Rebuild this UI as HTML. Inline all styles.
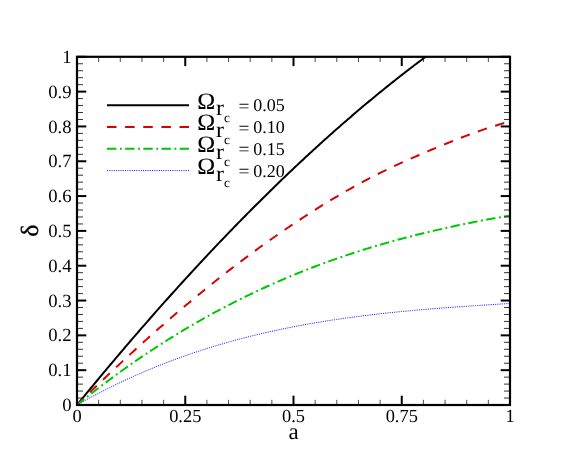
<!DOCTYPE html>
<html><head><meta charset="utf-8"><style>
html,body{margin:0;padding:0;background:#fff;}
body{width:581px;height:458px;overflow:hidden;}
svg{display:block;will-change:transform}
text{text-rendering:geometricPrecision}
text{font-family:"Liberation Serif",serif;fill:#000}
.tk{font-size:18.7px}
.tkx{font-size:18.4px}
.om{font-size:23.5px;stroke:#000;stroke-width:0.12px}
.sr{font-size:22.2px}
.sc{font-size:13.4px}
.eq{font-size:18.0px}
.ax{font-size:23px}
.dl{font-size:24.7px;stroke:#000;stroke-width:0.3px}
</style></head><body>
<svg width="581" height="458" viewBox="0 0 581 458">
<rect width="581" height="458" fill="#fff"/>
<defs><clipPath id="cp"><rect x="77.0" y="56.8" width="433.0" height="348.2"/></clipPath></defs>
<g clip-path="url(#cp)" fill="none" stroke-linecap="butt" stroke-linejoin="round">
<path d="M77.00,405.00L78.78,402.82L80.55,400.65L82.33,398.48L84.10,396.31L85.88,394.14L87.65,391.98L89.43,389.83L91.20,387.68L92.98,385.53L94.75,383.38L96.53,381.24L98.30,379.10L100.08,376.97L101.85,374.84L103.63,372.71L105.40,370.59L107.18,368.47L108.96,366.36L110.73,364.24L112.51,362.14L114.28,360.03L116.06,357.93L117.83,355.84L119.61,353.74L121.38,351.66L123.16,349.57L124.93,347.49L126.71,345.41L128.48,343.34L130.26,341.27L132.03,339.21L133.81,337.14L135.58,335.09L137.36,333.03L139.14,330.98L140.91,328.94L142.69,326.90L144.46,324.86L146.24,322.82L148.01,320.79L149.79,318.77L151.56,316.75L153.34,314.73L155.11,312.71L156.89,310.70L158.66,308.70L160.44,306.69L162.21,304.70L163.99,302.70L165.76,300.71L167.54,298.73L169.32,296.74L171.09,294.77L172.87,292.79L174.64,290.82L176.42,288.86L178.19,286.89L179.97,284.94L181.74,282.98L183.52,281.03L185.29,279.09L187.07,277.15L188.84,275.21L190.62,273.28L192.39,271.35L194.17,269.42L195.95,267.50L197.72,265.59L199.50,263.67L201.27,261.77L203.05,259.86L204.82,257.96L206.60,256.07L208.37,254.17L210.15,252.29L211.92,250.40L213.70,248.53L215.47,246.65L217.25,244.78L219.02,242.92L220.80,241.05L222.57,239.20L224.35,237.34L226.13,235.49L227.90,233.65L229.68,231.81L231.45,229.97L233.23,228.14L235.00,226.31L236.78,224.49L238.55,222.67L240.33,220.86L242.10,219.05L243.88,217.24L245.65,215.44L247.43,213.64L249.20,211.85L250.98,210.06L252.75,208.28L254.53,206.50L256.31,204.72L258.08,202.95L259.86,201.19L261.63,199.43L263.41,197.67L265.18,195.92L266.96,194.17L268.73,192.42L270.51,190.68L272.28,188.95L274.06,187.22L275.83,185.49L277.61,183.77L279.38,182.05L281.16,180.34L282.93,178.63L284.71,176.93L286.49,175.23L288.26,173.54L290.04,171.85L291.81,170.16L293.59,168.48L295.36,166.80L297.14,165.13L298.91,163.47L300.69,161.80L302.46,160.15L304.24,158.49L306.01,156.84L307.79,155.20L309.56,153.56L311.34,151.93L313.11,150.30L314.89,148.67L316.67,147.05L318.44,145.43L320.22,143.82L321.99,142.22L323.77,140.61L325.54,139.02L327.32,137.43L329.09,135.84L330.87,134.25L332.64,132.68L334.42,131.10L336.19,129.53L337.97,127.97L339.74,126.41L341.52,124.86L343.29,123.31L345.07,121.76L346.85,120.22L348.62,118.68L350.40,117.15L352.17,115.63L353.95,114.11L355.72,112.59L357.50,111.08L359.27,109.57L361.05,108.07L362.82,106.57L364.60,105.08L366.37,103.60L368.15,102.11L369.92,100.64L371.70,99.16L373.48,97.70L375.25,96.23L377.03,94.78L378.80,93.32L380.58,91.88L382.35,90.43L384.13,89.00L385.90,87.56L387.68,86.13L389.45,84.71L391.23,83.29L393.00,81.88L394.78,80.47L396.55,79.07L398.33,77.67L400.10,76.28L401.88,74.89L403.66,73.51L405.43,72.13L407.21,70.76L408.98,69.39L410.76,68.03L412.53,66.67L414.31,65.32L416.08,63.97L417.86,62.63L419.63,61.29L421.41,59.96L423.18,58.63L424.96,57.31L426.73,55.99L428.51,54.68L430.28,53.37L432.06,52.07" stroke="#000" stroke-width="2"/>
<path d="M77.00,405.00L79.17,402.86L81.33,400.73L83.50,398.60L85.66,396.48L87.83,394.36L89.99,392.26L92.16,390.15L94.32,388.06L96.48,385.97L98.65,383.88L100.81,381.80L102.98,379.73L105.14,377.67L107.31,375.61L109.47,373.55L111.64,371.51L113.81,369.46L115.97,367.43L118.13,365.40L120.30,363.38L122.47,361.37L124.63,359.36L126.80,357.35L128.96,355.36L131.12,353.37L133.29,351.39L135.46,349.41L137.62,347.44L139.78,345.48L141.95,343.52L144.12,341.57L146.28,339.62L148.44,337.69L150.61,335.76L152.77,333.83L154.94,331.91L157.11,330.00L159.27,328.10L161.44,326.20L163.60,324.31L165.76,322.43L167.93,320.55L170.09,318.68L172.26,316.82L174.43,314.96L176.59,313.11L178.75,311.27L180.92,309.43L183.08,307.60L185.25,305.78L187.42,303.96L189.58,302.16L191.75,300.35L193.91,298.56L196.07,296.77L198.24,294.99L200.40,293.22L202.57,291.45L204.74,289.69L206.90,287.94L209.06,286.19L211.23,284.46L213.40,282.73L215.56,281.00L217.72,279.29L219.89,277.58L222.06,275.87L224.22,274.18L226.38,272.49L228.55,270.81L230.72,269.14L232.88,267.47L235.04,265.81L237.21,264.16L239.38,262.52L241.54,260.88L243.71,259.26L245.87,257.63L248.03,256.02L250.20,254.41L252.37,252.81L254.53,251.22L256.69,249.64L258.86,248.06L261.02,246.49L263.19,244.93L265.36,243.38L267.52,241.83L269.69,240.29L271.85,238.76L274.01,237.24L276.18,235.72L278.35,234.22L280.51,232.72L282.67,231.22L284.84,229.74L287.00,228.26L289.17,226.79L291.34,225.33L293.50,223.88L295.66,222.43L297.83,221.00L300.00,219.57L302.16,218.15L304.33,216.73L306.49,215.33L308.65,213.93L310.82,212.54L312.99,211.16L315.15,209.79L317.32,208.43L319.48,207.07L321.64,205.72L323.81,204.38L325.98,203.05L328.14,201.73L330.30,200.42L332.47,199.12L334.63,197.82L336.80,196.54L338.96,195.26L341.13,193.99L343.30,192.74L345.46,191.49L347.62,190.25L349.79,189.02L351.95,187.80L354.12,186.60L356.29,185.40L358.45,184.21L360.62,183.04L362.78,181.87L364.94,180.71L367.11,179.57L369.28,178.44L371.44,177.31L373.61,176.20L375.77,175.10L377.94,174.01L380.10,172.93L382.26,171.86L384.43,170.80L386.59,169.75L388.76,168.71L390.93,167.68L393.09,166.66L395.25,165.65L397.42,164.65L399.58,163.66L401.75,162.67L403.92,161.69L406.08,160.72L408.25,159.76L410.41,158.80L412.57,157.85L414.74,156.90L416.91,155.96L419.07,155.02L421.24,154.09L423.40,153.16L425.56,152.24L427.73,151.32L429.89,150.41L432.06,149.50L434.22,148.59L436.39,147.69L438.56,146.79L440.72,145.89L442.88,145.00L445.05,144.11L447.21,143.23L449.38,142.35L451.55,141.48L453.71,140.62L455.88,139.76L458.04,138.91L460.20,138.06L462.37,137.23L464.54,136.40L466.70,135.58L468.87,134.77L471.03,133.96L473.19,133.17L475.36,132.39L477.53,131.62L479.69,130.86L481.86,130.11L484.02,129.37L486.19,128.64L488.35,127.92L490.51,127.22L492.68,126.53L494.84,125.85L497.01,125.18L499.18,124.52L501.34,123.88L503.50,123.24L505.67,122.62L507.83,122.01L510.00,121.41" stroke="#d80000" stroke-width="2" stroke-dasharray="9.5,8.63"/>
<path d="M77.00,405.00L79.17,403.25L81.33,401.50L83.50,399.77L85.66,398.04L87.83,396.33L89.99,394.63L92.16,392.93L94.32,391.25L96.48,389.58L98.65,387.91L100.81,386.26L102.98,384.62L105.14,382.98L107.31,381.36L109.47,379.74L111.64,378.14L113.81,376.55L115.97,374.96L118.13,373.39L120.30,371.82L122.47,370.26L124.63,368.72L126.80,367.18L128.96,365.65L131.12,364.13L133.29,362.63L135.46,361.13L137.62,359.64L139.78,358.16L141.95,356.68L144.12,355.22L146.28,353.77L148.44,352.33L150.61,350.89L152.77,349.47L154.94,348.05L157.11,346.65L159.27,345.25L161.44,343.86L163.60,342.48L165.76,341.11L167.93,339.75L170.09,338.40L172.26,337.05L174.43,335.72L176.59,334.39L178.75,333.07L180.92,331.76L183.08,330.46L185.25,329.17L187.42,327.89L189.58,326.62L191.75,325.35L193.91,324.10L196.07,322.85L198.24,321.61L200.40,320.38L202.57,319.15L204.74,317.94L206.90,316.73L209.06,315.54L211.23,314.35L213.40,313.17L215.56,311.99L217.72,310.83L219.89,309.67L222.06,308.53L224.22,307.39L226.38,306.26L228.55,305.13L230.72,304.02L232.88,302.91L235.04,301.81L237.21,300.72L239.38,299.63L241.54,298.56L243.71,297.49L245.87,296.43L248.03,295.38L250.20,294.33L252.37,293.30L254.53,292.27L256.69,291.25L258.86,290.23L261.02,289.23L263.19,288.23L265.36,287.24L267.52,286.26L269.69,285.28L271.85,284.31L274.01,283.35L276.18,282.40L278.35,281.45L280.51,280.51L282.67,279.58L284.84,278.66L287.00,277.74L289.17,276.83L291.34,275.93L293.50,275.03L295.66,274.15L297.83,273.27L300.00,272.39L302.16,271.52L304.33,270.66L306.49,269.81L308.65,268.97L310.82,268.13L312.99,267.29L315.15,266.47L317.32,265.65L319.48,264.84L321.64,264.03L323.81,263.24L325.98,262.44L328.14,261.66L330.30,260.88L332.47,260.11L334.63,259.34L336.80,258.59L338.96,257.83L341.13,257.09L343.30,256.35L345.46,255.62L347.62,254.89L349.79,254.17L351.95,253.46L354.12,252.75L356.29,252.05L358.45,251.35L360.62,250.66L362.78,249.98L364.94,249.31L367.11,248.64L369.28,247.97L371.44,247.31L373.61,246.66L375.77,246.01L377.94,245.37L380.10,244.74L382.26,244.11L384.43,243.49L386.59,242.87L388.76,242.26L390.93,241.65L393.09,241.05L395.25,240.46L397.42,239.87L399.58,239.29L401.75,238.71L403.92,238.14L406.08,237.57L408.25,237.01L410.41,236.45L412.57,235.90L414.74,235.35L416.91,234.81L419.07,234.27L421.24,233.74L423.40,233.21L425.56,232.69L427.73,232.17L429.89,231.65L432.06,231.14L434.22,230.64L436.39,230.14L438.56,229.64L440.72,229.15L442.88,228.66L445.05,228.17L447.21,227.69L449.38,227.21L451.55,226.74L453.71,226.27L455.88,225.80L458.04,225.34L460.20,224.88L462.37,224.42L464.54,223.97L466.70,223.53L468.87,223.08L471.03,222.65L473.19,222.21L475.36,221.78L477.53,221.36L479.69,220.94L481.86,220.52L484.02,220.11L486.19,219.71L488.35,219.31L490.51,218.92L492.68,218.53L494.84,218.15L497.01,217.78L499.18,217.41L501.34,217.05L503.50,216.69L505.67,216.34L507.83,216.00L510.00,215.66" stroke="#00c800" stroke-width="2" stroke-dasharray="9.35,3.55,1.9,3.37"/>
<path d="M77.00,405.00L79.17,403.77L81.33,402.56L83.50,401.36L85.66,400.16L87.83,398.98L89.99,397.81L92.16,396.64L94.32,395.49L96.48,394.35L98.65,393.22L100.81,392.10L102.98,390.99L105.14,389.88L107.31,388.79L109.47,387.71L111.64,386.64L113.81,385.58L115.97,384.53L118.13,383.49L120.30,382.46L122.47,381.43L124.63,380.42L126.80,379.42L128.96,378.43L131.12,377.44L133.29,376.47L135.46,375.50L137.62,374.55L139.78,373.60L141.95,372.66L144.12,371.73L146.28,370.81L148.44,369.90L150.61,369.00L152.77,368.11L154.94,367.23L157.11,366.35L159.27,365.49L161.44,364.63L163.60,363.78L165.76,362.94L167.93,362.11L170.09,361.29L172.26,360.47L174.43,359.67L176.59,358.87L178.75,358.08L180.92,357.30L183.08,356.53L185.25,355.76L187.42,355.01L189.58,354.26L191.75,353.52L193.91,352.79L196.07,352.06L198.24,351.35L200.40,350.64L202.57,349.94L204.74,349.24L206.90,348.56L209.06,347.88L211.23,347.21L213.40,346.55L215.56,345.89L217.72,345.24L219.89,344.60L222.06,343.97L224.22,343.34L226.38,342.72L228.55,342.11L230.72,341.50L232.88,340.91L235.04,340.31L237.21,339.73L239.38,339.15L241.54,338.58L243.71,338.02L245.87,337.46L248.03,336.91L250.20,336.37L252.37,335.83L254.53,335.30L256.69,334.77L258.86,334.25L261.02,333.74L263.19,333.24L265.36,332.74L267.52,332.24L269.69,331.76L271.85,331.28L274.01,330.80L276.18,330.33L278.35,329.87L280.51,329.41L282.67,328.96L284.84,328.52L287.00,328.08L289.17,327.64L291.34,327.21L293.50,326.79L295.66,326.37L297.83,325.96L300.00,325.55L302.16,325.15L304.33,324.75L306.49,324.36L308.65,323.98L310.82,323.60L312.99,323.22L315.15,322.85L317.32,322.48L319.48,322.12L321.64,321.77L323.81,321.42L325.98,321.07L328.14,320.73L330.30,320.39L332.47,320.06L334.63,319.73L336.80,319.41L338.96,319.09L341.13,318.77L343.30,318.46L345.46,318.16L347.62,317.85L349.79,317.56L351.95,317.26L354.12,316.97L356.29,316.69L358.45,316.41L360.62,316.13L362.78,315.86L364.94,315.59L367.11,315.32L369.28,315.06L371.44,314.80L373.61,314.54L375.77,314.29L377.94,314.05L380.10,313.80L382.26,313.56L384.43,313.32L386.59,313.09L388.76,312.86L390.93,312.63L393.09,312.40L395.25,312.18L397.42,311.96L399.58,311.75L401.75,311.53L403.92,311.32L406.08,311.12L408.25,310.91L410.41,310.71L412.57,310.51L414.74,310.31L416.91,310.12L419.07,309.93L421.24,309.74L423.40,309.55L425.56,309.37L427.73,309.19L429.89,309.01L432.06,308.83L434.22,308.65L436.39,308.48L438.56,308.31L440.72,308.14L442.88,307.97L445.05,307.81L447.21,307.64L449.38,307.48L451.55,307.32L453.71,307.16L455.88,307.01L458.04,306.85L460.20,306.70L462.37,306.55L464.54,306.39L466.70,306.25L468.87,306.10L471.03,305.95L473.19,305.80L475.36,305.66L477.53,305.52L479.69,305.37L481.86,305.23L484.02,305.09L486.19,304.95L488.35,304.81L490.51,304.68L492.68,304.54L494.84,304.40L497.01,304.27L499.18,304.13L501.34,303.99L503.50,303.86L505.67,303.73L507.83,303.59L510.00,303.46" stroke="#1a1aff" stroke-width="1.0" stroke-dasharray="1.1,1.15"/>
</g>
<line x1="77.0" y1="405.00" x2="86.3" y2="405.00" stroke="#000" stroke-width="2"/><line x1="510.0" y1="405.00" x2="500.7" y2="405.00" stroke="#000" stroke-width="2"/><line x1="77.0" y1="370.18" x2="86.3" y2="370.18" stroke="#000" stroke-width="2"/><line x1="510.0" y1="370.18" x2="500.7" y2="370.18" stroke="#000" stroke-width="2"/><line x1="77.0" y1="335.36" x2="86.3" y2="335.36" stroke="#000" stroke-width="2"/><line x1="510.0" y1="335.36" x2="500.7" y2="335.36" stroke="#000" stroke-width="2"/><line x1="77.0" y1="300.54" x2="86.3" y2="300.54" stroke="#000" stroke-width="2"/><line x1="510.0" y1="300.54" x2="500.7" y2="300.54" stroke="#000" stroke-width="2"/><line x1="77.0" y1="265.72" x2="86.3" y2="265.72" stroke="#000" stroke-width="2"/><line x1="510.0" y1="265.72" x2="500.7" y2="265.72" stroke="#000" stroke-width="2"/><line x1="77.0" y1="230.90" x2="86.3" y2="230.90" stroke="#000" stroke-width="2"/><line x1="510.0" y1="230.90" x2="500.7" y2="230.90" stroke="#000" stroke-width="2"/><line x1="77.0" y1="196.08" x2="86.3" y2="196.08" stroke="#000" stroke-width="2"/><line x1="510.0" y1="196.08" x2="500.7" y2="196.08" stroke="#000" stroke-width="2"/><line x1="77.0" y1="161.26" x2="86.3" y2="161.26" stroke="#000" stroke-width="2"/><line x1="510.0" y1="161.26" x2="500.7" y2="161.26" stroke="#000" stroke-width="2"/><line x1="77.0" y1="126.44" x2="86.3" y2="126.44" stroke="#000" stroke-width="2"/><line x1="510.0" y1="126.44" x2="500.7" y2="126.44" stroke="#000" stroke-width="2"/><line x1="77.0" y1="91.62" x2="86.3" y2="91.62" stroke="#000" stroke-width="2"/><line x1="510.0" y1="91.62" x2="500.7" y2="91.62" stroke="#000" stroke-width="2"/><line x1="77.0" y1="56.80" x2="86.3" y2="56.80" stroke="#000" stroke-width="2"/><line x1="510.0" y1="56.80" x2="500.7" y2="56.80" stroke="#000" stroke-width="2"/><line x1="77.0" y1="398.04" x2="83.0" y2="398.04" stroke="#000" stroke-width="0.8"/><line x1="510.0" y1="398.04" x2="504.0" y2="398.04" stroke="#000" stroke-width="0.8"/><line x1="77.0" y1="391.07" x2="83.0" y2="391.07" stroke="#000" stroke-width="0.8"/><line x1="510.0" y1="391.07" x2="504.0" y2="391.07" stroke="#000" stroke-width="0.8"/><line x1="77.0" y1="384.11" x2="83.0" y2="384.11" stroke="#000" stroke-width="0.8"/><line x1="510.0" y1="384.11" x2="504.0" y2="384.11" stroke="#000" stroke-width="0.8"/><line x1="77.0" y1="377.14" x2="83.0" y2="377.14" stroke="#000" stroke-width="0.8"/><line x1="510.0" y1="377.14" x2="504.0" y2="377.14" stroke="#000" stroke-width="0.8"/><line x1="77.0" y1="363.22" x2="83.0" y2="363.22" stroke="#000" stroke-width="0.8"/><line x1="510.0" y1="363.22" x2="504.0" y2="363.22" stroke="#000" stroke-width="0.8"/><line x1="77.0" y1="356.25" x2="83.0" y2="356.25" stroke="#000" stroke-width="0.8"/><line x1="510.0" y1="356.25" x2="504.0" y2="356.25" stroke="#000" stroke-width="0.8"/><line x1="77.0" y1="349.29" x2="83.0" y2="349.29" stroke="#000" stroke-width="0.8"/><line x1="510.0" y1="349.29" x2="504.0" y2="349.29" stroke="#000" stroke-width="0.8"/><line x1="77.0" y1="342.32" x2="83.0" y2="342.32" stroke="#000" stroke-width="0.8"/><line x1="510.0" y1="342.32" x2="504.0" y2="342.32" stroke="#000" stroke-width="0.8"/><line x1="77.0" y1="328.40" x2="83.0" y2="328.40" stroke="#000" stroke-width="0.8"/><line x1="510.0" y1="328.40" x2="504.0" y2="328.40" stroke="#000" stroke-width="0.8"/><line x1="77.0" y1="321.43" x2="83.0" y2="321.43" stroke="#000" stroke-width="0.8"/><line x1="510.0" y1="321.43" x2="504.0" y2="321.43" stroke="#000" stroke-width="0.8"/><line x1="77.0" y1="314.47" x2="83.0" y2="314.47" stroke="#000" stroke-width="0.8"/><line x1="510.0" y1="314.47" x2="504.0" y2="314.47" stroke="#000" stroke-width="0.8"/><line x1="77.0" y1="307.50" x2="83.0" y2="307.50" stroke="#000" stroke-width="0.8"/><line x1="510.0" y1="307.50" x2="504.0" y2="307.50" stroke="#000" stroke-width="0.8"/><line x1="77.0" y1="293.58" x2="83.0" y2="293.58" stroke="#000" stroke-width="0.8"/><line x1="510.0" y1="293.58" x2="504.0" y2="293.58" stroke="#000" stroke-width="0.8"/><line x1="77.0" y1="286.61" x2="83.0" y2="286.61" stroke="#000" stroke-width="0.8"/><line x1="510.0" y1="286.61" x2="504.0" y2="286.61" stroke="#000" stroke-width="0.8"/><line x1="77.0" y1="279.65" x2="83.0" y2="279.65" stroke="#000" stroke-width="0.8"/><line x1="510.0" y1="279.65" x2="504.0" y2="279.65" stroke="#000" stroke-width="0.8"/><line x1="77.0" y1="272.68" x2="83.0" y2="272.68" stroke="#000" stroke-width="0.8"/><line x1="510.0" y1="272.68" x2="504.0" y2="272.68" stroke="#000" stroke-width="0.8"/><line x1="77.0" y1="258.76" x2="83.0" y2="258.76" stroke="#000" stroke-width="0.8"/><line x1="510.0" y1="258.76" x2="504.0" y2="258.76" stroke="#000" stroke-width="0.8"/><line x1="77.0" y1="251.79" x2="83.0" y2="251.79" stroke="#000" stroke-width="0.8"/><line x1="510.0" y1="251.79" x2="504.0" y2="251.79" stroke="#000" stroke-width="0.8"/><line x1="77.0" y1="244.83" x2="83.0" y2="244.83" stroke="#000" stroke-width="0.8"/><line x1="510.0" y1="244.83" x2="504.0" y2="244.83" stroke="#000" stroke-width="0.8"/><line x1="77.0" y1="237.86" x2="83.0" y2="237.86" stroke="#000" stroke-width="0.8"/><line x1="510.0" y1="237.86" x2="504.0" y2="237.86" stroke="#000" stroke-width="0.8"/><line x1="77.0" y1="223.94" x2="83.0" y2="223.94" stroke="#000" stroke-width="0.8"/><line x1="510.0" y1="223.94" x2="504.0" y2="223.94" stroke="#000" stroke-width="0.8"/><line x1="77.0" y1="216.97" x2="83.0" y2="216.97" stroke="#000" stroke-width="0.8"/><line x1="510.0" y1="216.97" x2="504.0" y2="216.97" stroke="#000" stroke-width="0.8"/><line x1="77.0" y1="210.01" x2="83.0" y2="210.01" stroke="#000" stroke-width="0.8"/><line x1="510.0" y1="210.01" x2="504.0" y2="210.01" stroke="#000" stroke-width="0.8"/><line x1="77.0" y1="203.04" x2="83.0" y2="203.04" stroke="#000" stroke-width="0.8"/><line x1="510.0" y1="203.04" x2="504.0" y2="203.04" stroke="#000" stroke-width="0.8"/><line x1="77.0" y1="189.12" x2="83.0" y2="189.12" stroke="#000" stroke-width="0.8"/><line x1="510.0" y1="189.12" x2="504.0" y2="189.12" stroke="#000" stroke-width="0.8"/><line x1="77.0" y1="182.15" x2="83.0" y2="182.15" stroke="#000" stroke-width="0.8"/><line x1="510.0" y1="182.15" x2="504.0" y2="182.15" stroke="#000" stroke-width="0.8"/><line x1="77.0" y1="175.19" x2="83.0" y2="175.19" stroke="#000" stroke-width="0.8"/><line x1="510.0" y1="175.19" x2="504.0" y2="175.19" stroke="#000" stroke-width="0.8"/><line x1="77.0" y1="168.22" x2="83.0" y2="168.22" stroke="#000" stroke-width="0.8"/><line x1="510.0" y1="168.22" x2="504.0" y2="168.22" stroke="#000" stroke-width="0.8"/><line x1="77.0" y1="154.30" x2="83.0" y2="154.30" stroke="#000" stroke-width="0.8"/><line x1="510.0" y1="154.30" x2="504.0" y2="154.30" stroke="#000" stroke-width="0.8"/><line x1="77.0" y1="147.33" x2="83.0" y2="147.33" stroke="#000" stroke-width="0.8"/><line x1="510.0" y1="147.33" x2="504.0" y2="147.33" stroke="#000" stroke-width="0.8"/><line x1="77.0" y1="140.37" x2="83.0" y2="140.37" stroke="#000" stroke-width="0.8"/><line x1="510.0" y1="140.37" x2="504.0" y2="140.37" stroke="#000" stroke-width="0.8"/><line x1="77.0" y1="133.40" x2="83.0" y2="133.40" stroke="#000" stroke-width="0.8"/><line x1="510.0" y1="133.40" x2="504.0" y2="133.40" stroke="#000" stroke-width="0.8"/><line x1="77.0" y1="119.48" x2="83.0" y2="119.48" stroke="#000" stroke-width="0.8"/><line x1="510.0" y1="119.48" x2="504.0" y2="119.48" stroke="#000" stroke-width="0.8"/><line x1="77.0" y1="112.51" x2="83.0" y2="112.51" stroke="#000" stroke-width="0.8"/><line x1="510.0" y1="112.51" x2="504.0" y2="112.51" stroke="#000" stroke-width="0.8"/><line x1="77.0" y1="105.55" x2="83.0" y2="105.55" stroke="#000" stroke-width="0.8"/><line x1="510.0" y1="105.55" x2="504.0" y2="105.55" stroke="#000" stroke-width="0.8"/><line x1="77.0" y1="98.58" x2="83.0" y2="98.58" stroke="#000" stroke-width="0.8"/><line x1="510.0" y1="98.58" x2="504.0" y2="98.58" stroke="#000" stroke-width="0.8"/><line x1="77.0" y1="84.66" x2="83.0" y2="84.66" stroke="#000" stroke-width="0.8"/><line x1="510.0" y1="84.66" x2="504.0" y2="84.66" stroke="#000" stroke-width="0.8"/><line x1="77.0" y1="77.69" x2="83.0" y2="77.69" stroke="#000" stroke-width="0.8"/><line x1="510.0" y1="77.69" x2="504.0" y2="77.69" stroke="#000" stroke-width="0.8"/><line x1="77.0" y1="70.73" x2="83.0" y2="70.73" stroke="#000" stroke-width="0.8"/><line x1="510.0" y1="70.73" x2="504.0" y2="70.73" stroke="#000" stroke-width="0.8"/><line x1="77.0" y1="63.76" x2="83.0" y2="63.76" stroke="#000" stroke-width="0.8"/><line x1="510.0" y1="63.76" x2="504.0" y2="63.76" stroke="#000" stroke-width="0.8"/><line x1="77.00" y1="405.0" x2="77.00" y2="395.7" stroke="#000" stroke-width="2"/><line x1="77.00" y1="56.8" x2="77.00" y2="66.1" stroke="#000" stroke-width="2"/><line x1="185.25" y1="405.0" x2="185.25" y2="395.7" stroke="#000" stroke-width="2"/><line x1="185.25" y1="56.8" x2="185.25" y2="66.1" stroke="#000" stroke-width="2"/><line x1="293.50" y1="405.0" x2="293.50" y2="395.7" stroke="#000" stroke-width="2"/><line x1="293.50" y1="56.8" x2="293.50" y2="66.1" stroke="#000" stroke-width="2"/><line x1="401.75" y1="405.0" x2="401.75" y2="395.7" stroke="#000" stroke-width="2"/><line x1="401.75" y1="56.8" x2="401.75" y2="66.1" stroke="#000" stroke-width="2"/><line x1="510.00" y1="405.0" x2="510.00" y2="395.7" stroke="#000" stroke-width="2"/><line x1="510.00" y1="56.8" x2="510.00" y2="66.1" stroke="#000" stroke-width="2"/><line x1="98.65" y1="405.0" x2="98.65" y2="399.8" stroke="#000" stroke-width="0.7"/><line x1="98.65" y1="56.8" x2="98.65" y2="62.0" stroke="#000" stroke-width="0.7"/><line x1="120.30" y1="405.0" x2="120.30" y2="399.8" stroke="#000" stroke-width="0.7"/><line x1="120.30" y1="56.8" x2="120.30" y2="62.0" stroke="#000" stroke-width="0.7"/><line x1="141.95" y1="405.0" x2="141.95" y2="399.8" stroke="#000" stroke-width="0.7"/><line x1="141.95" y1="56.8" x2="141.95" y2="62.0" stroke="#000" stroke-width="0.7"/><line x1="163.60" y1="405.0" x2="163.60" y2="399.8" stroke="#000" stroke-width="0.7"/><line x1="163.60" y1="56.8" x2="163.60" y2="62.0" stroke="#000" stroke-width="0.7"/><line x1="206.90" y1="405.0" x2="206.90" y2="399.8" stroke="#000" stroke-width="0.7"/><line x1="206.90" y1="56.8" x2="206.90" y2="62.0" stroke="#000" stroke-width="0.7"/><line x1="228.55" y1="405.0" x2="228.55" y2="399.8" stroke="#000" stroke-width="0.7"/><line x1="228.55" y1="56.8" x2="228.55" y2="62.0" stroke="#000" stroke-width="0.7"/><line x1="250.20" y1="405.0" x2="250.20" y2="399.8" stroke="#000" stroke-width="0.7"/><line x1="250.20" y1="56.8" x2="250.20" y2="62.0" stroke="#000" stroke-width="0.7"/><line x1="271.85" y1="405.0" x2="271.85" y2="399.8" stroke="#000" stroke-width="0.7"/><line x1="271.85" y1="56.8" x2="271.85" y2="62.0" stroke="#000" stroke-width="0.7"/><line x1="315.15" y1="405.0" x2="315.15" y2="399.8" stroke="#000" stroke-width="0.7"/><line x1="315.15" y1="56.8" x2="315.15" y2="62.0" stroke="#000" stroke-width="0.7"/><line x1="336.80" y1="405.0" x2="336.80" y2="399.8" stroke="#000" stroke-width="0.7"/><line x1="336.80" y1="56.8" x2="336.80" y2="62.0" stroke="#000" stroke-width="0.7"/><line x1="358.45" y1="405.0" x2="358.45" y2="399.8" stroke="#000" stroke-width="0.7"/><line x1="358.45" y1="56.8" x2="358.45" y2="62.0" stroke="#000" stroke-width="0.7"/><line x1="380.10" y1="405.0" x2="380.10" y2="399.8" stroke="#000" stroke-width="0.7"/><line x1="380.10" y1="56.8" x2="380.10" y2="62.0" stroke="#000" stroke-width="0.7"/><line x1="423.40" y1="405.0" x2="423.40" y2="399.8" stroke="#000" stroke-width="0.7"/><line x1="423.40" y1="56.8" x2="423.40" y2="62.0" stroke="#000" stroke-width="0.7"/><line x1="445.05" y1="405.0" x2="445.05" y2="399.8" stroke="#000" stroke-width="0.7"/><line x1="445.05" y1="56.8" x2="445.05" y2="62.0" stroke="#000" stroke-width="0.7"/><line x1="466.70" y1="405.0" x2="466.70" y2="399.8" stroke="#000" stroke-width="0.7"/><line x1="466.70" y1="56.8" x2="466.70" y2="62.0" stroke="#000" stroke-width="0.7"/><line x1="488.35" y1="405.0" x2="488.35" y2="399.8" stroke="#000" stroke-width="0.7"/><line x1="488.35" y1="56.8" x2="488.35" y2="62.0" stroke="#000" stroke-width="0.7"/>
<rect x="77.0" y="56.8" width="433.0" height="348.2" fill="none" stroke="#000" stroke-width="2.2"/>
<text x="71.6" y="411.10" text-anchor="end" class="tk">0</text><text x="71.6" y="376.28" text-anchor="end" class="tk">0.1</text><text x="71.6" y="341.46" text-anchor="end" class="tk">0.2</text><text x="71.6" y="306.64" text-anchor="end" class="tk">0.3</text><text x="71.6" y="271.82" text-anchor="end" class="tk">0.4</text><text x="71.6" y="237.00" text-anchor="end" class="tk">0.5</text><text x="71.6" y="202.18" text-anchor="end" class="tk">0.6</text><text x="71.6" y="167.36" text-anchor="end" class="tk">0.7</text><text x="71.6" y="132.54" text-anchor="end" class="tk">0.8</text><text x="71.6" y="97.72" text-anchor="end" class="tk">0.9</text><text x="71.6" y="62.90" text-anchor="end" class="tk">1</text><text x="77.00" y="422.4" text-anchor="middle" class="tkx">0</text><text x="185.25" y="422.4" text-anchor="middle" class="tkx">0.25</text><text x="293.50" y="422.4" text-anchor="middle" class="tkx">0.5</text><text x="401.75" y="422.4" text-anchor="middle" class="tkx">0.75</text><text x="510.00" y="422.4" text-anchor="middle" class="tkx">1</text>
<line x1="107" y1="105.3" x2="189" y2="105.3" stroke="#000" stroke-width="2"/><text transform="translate(197.3,108.50) scale(1.03,1)" class="om">Ω</text><text transform="translate(216.0,115.20) scale(1.08,1)" class="sr">r</text><text x="224.0" y="122.10" class="sc">c</text><text transform="translate(238.6,111.70) scale(1.08,1)" class="eq">=</text><text x="253.3" y="111.40" class="eq">0.05</text><line x1="107" y1="127.1" x2="189" y2="127.1" stroke="#d80000" stroke-width="2" stroke-dasharray="9.5,8.63"/><text transform="translate(197.3,130.30) scale(1.03,1)" class="om">Ω</text><text transform="translate(216.0,137.00) scale(1.08,1)" class="sr">r</text><text x="224.0" y="143.90" class="sc">c</text><text transform="translate(238.6,133.50) scale(1.08,1)" class="eq">=</text><text x="253.3" y="133.20" class="eq">0.10</text><line x1="107" y1="148.8" x2="189" y2="148.8" stroke="#00c800" stroke-width="2" stroke-dasharray="9.35,3.55,1.9,3.37"/><text transform="translate(197.3,152.00) scale(1.03,1)" class="om">Ω</text><text transform="translate(216.0,158.70) scale(1.08,1)" class="sr">r</text><text x="224.0" y="165.60" class="sc">c</text><text transform="translate(238.6,155.20) scale(1.08,1)" class="eq">=</text><text x="253.3" y="154.90" class="eq">0.15</text><line x1="107" y1="170.6" x2="189" y2="170.6" stroke="#1a1aff" stroke-width="1.0" stroke-dasharray="1.1,1.15"/><text transform="translate(197.3,173.80) scale(1.03,1)" class="om">Ω</text><text transform="translate(216.0,180.50) scale(1.08,1)" class="sr">r</text><text x="224.0" y="187.40" class="sc">c</text><text transform="translate(238.6,177.00) scale(1.08,1)" class="eq">=</text><text x="253.3" y="176.70" class="eq">0.20</text>
<text x="293.7" y="438.6" text-anchor="middle" class="ax">a</text>
<text transform="translate(37.7,230.6) rotate(-90) scale(1.06,1)" text-anchor="middle" class="dl">δ</text>
</svg>
</body></html>
